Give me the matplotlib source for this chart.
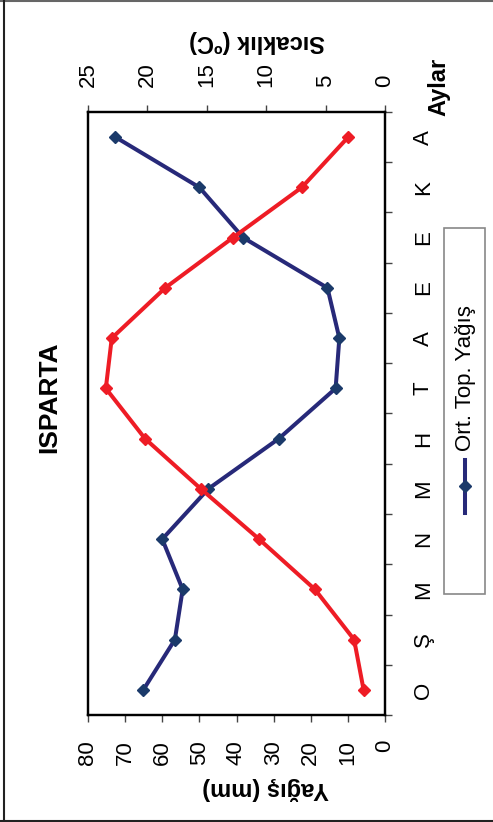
import matplotlib
matplotlib.use("Agg")
import matplotlib.pyplot as plt
import numpy as np
from matplotlib.lines import Line2D
from matplotlib.patches import Rectangle

plt.rcParams["font.family"] = ["Liberation Sans", "DejaVu Sans"]

MONTHS = ["O", "Ş", "M", "N", "M", "H", "T", "A", "E", "E", "K", "A"]
RAIN_MM = [65.1, 56.6, 54.5, 60.0, 47.6, 28.6, 13.3, 12.3, 15.5, 38.2, 50.0, 72.6]
TEMP_C = [1.8, 2.6, 5.9, 10.6, 15.5, 20.2, 23.5, 23.0, 18.5, 12.8, 7.0, 3.1]
RAIN_TICKS = [0, 10, 20, 30, 40, 50, 60, 70, 80]
TEMP_TICKS = [0, 5, 10, 15, 20, 25]
LEGEND_LABEL = "Ort. Top. Yağış"

BLUE_LINE = "#272979"
BLUE_MARK = "#1b3a6a"
RED = "#ee1c25"
W, H = 493, 822

fig = plt.figure(figsize=(W / 100, H / 100), dpi=100)
ax = fig.add_axes([88 / W, 1 - 715 / H, (385 - 88) / W, (715 - 112) / H])

y = np.arange(len(MONTHS))
ax.plot(RAIN_MM, y, color=BLUE_LINE, lw=2.9, marker="D", ms=6.5,
        mfc=BLUE_MARK, mec=BLUE_MARK, zorder=3)
ax.set_xlim(80, 0)
ax.set_ylim(-0.5, len(MONTHS) - 0.5)
ax.set_xticks(RAIN_TICKS)
ax.set_xticklabels([str(t) for t in RAIN_TICKS], rotation=90)
ax.tick_params(axis="x", direction="out", length=5, width=1, color="#444444",
               pad=13, labelsize=16)

ax.yaxis.tick_right()
ax.set_yticks(y)
ax.set_yticklabels(MONTHS, rotation=90, va="center")
ax.set_yticks(np.arange(-0.5, len(MONTHS), 1), minor=True)
ax.tick_params(axis="y", which="major", length=0, pad=20, labelsize=16)
ax.tick_params(axis="y", which="minor", direction="out", length=5, width=1,
               color="#444444")
for s in ax.spines.values():
    s.set_linewidth(1.6)

ax2 = ax.twiny()
ax2.plot(TEMP_C, y, color=RED, lw=2.9, marker="D", ms=6.5,
         mfc=RED, mec=RED, zorder=3)
ax2.set_xlim(25, 0)
ax2.set_xticks(TEMP_TICKS)
ax2.set_xticklabels([str(t) for t in TEMP_TICKS], rotation=90)
ax2.tick_params(axis="x", direction="out", length=5, width=1, color="#444444",
                pad=13, labelsize=16)
for s in ax2.spines.values():
    s.set_linewidth(1.6)

fig.text(266 / W, 1 - 788 / H, "Yağış (mm)", rotation=180, ha="center",
         va="center", fontsize=17, fontweight="bold")
fig.text(257 / W, 1 - 42 / H, "Sıcaklık (ºC)", rotation=180, ha="center",
         va="center", fontsize=17, fontweight="bold")
fig.text(439 / W, 1 - 87 / H, "Aylar", rotation=90, ha="center",
         va="center", fontsize=17, fontweight="bold")
fig.text(49 / W, 1 - 397 / H, "ISPARTA", rotation=90, ha="center",
         va="center", fontsize=19, fontweight="bold")

# legend drawn by hand since the whole chart is turned on its side
fig.add_artist(Rectangle((444 / W, 1 - 594 / H), 41 / W, 366 / H,
                         transform=fig.transFigure, fill=False,
                         edgecolor="#888888", lw=1.2))
fig.add_artist(Line2D([465 / W, 465 / W], [1 - 513 / H, 1 - 460 / H],
                      transform=fig.transFigure, color=BLUE_LINE, lw=2.9))
fig.add_artist(Line2D([465 / W], [1 - 486 / H], transform=fig.transFigure,
                      marker="D", ms=6.5, color=BLUE_MARK, lw=0))
fig.text(466 / W, 1 - 378 / H, LEGEND_LABEL, rotation=90, ha="center",
         va="center", fontsize=16)

# outer frame
fig.add_artist(Line2D([0, 1], [1 - 1 / H, 1 - 1 / H], transform=fig.transFigure,
                      color="#666666", lw=1.5))
fig.add_artist(Line2D([4 / W, 4 / W], [0, 1], transform=fig.transFigure,
                      color="#222222", lw=1.5))
fig.add_artist(Line2D([0, 1], [1 - 821 / H, 1 - 821 / H],
                      transform=fig.transFigure, color="#222222", lw=1.5))

fig.savefig("out.png", dpi=100)
